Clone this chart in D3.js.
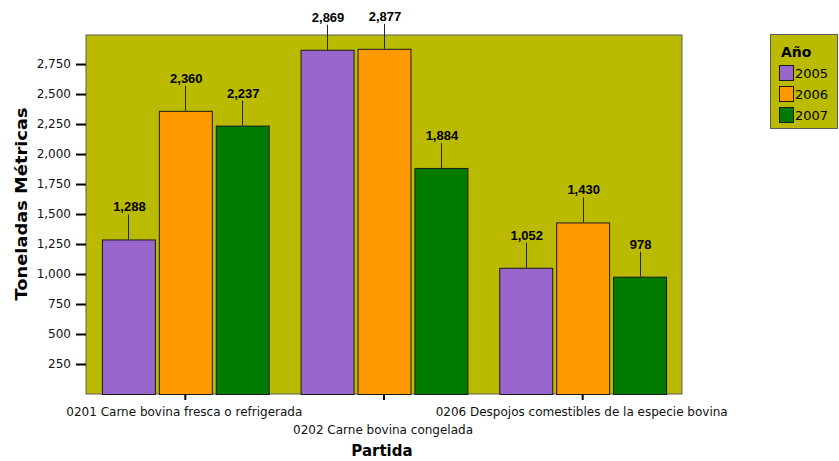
<!DOCTYPE html>
<html><head><meta charset="utf-8">
<script src="https://cdn.jsdelivr.net/npm/d3@7"></script>
<style>body{margin:0;background:#fff}svg{display:block}</style>
</head><body>
<svg id="c" width="839" height="461"></svg>
<script>
const categories = ["0201 Carne bovina fresca o refrigerada", "0202 Carne bovina congelada", "0206 Despojos comestibles de la especie bovina"];
const years = ["2005", "2006", "2007"];
const v2005 = [1288, 2869, 1052];
const v2006 = [2360, 2877, 1430];
const v2007 = [2237, 1884, 978];
const yTicks = [250, 500, 750, 1000, 1250, 1500, 1750, 2000, 2250, 2500, 2750];
const colors = ["#9966CC", "#FF9900", "#007A00"];

const series = [v2005, v2006, v2007];
const svg = d3.select("#c");
const L = 86, R = 682, T = 35, B = 394;

const x0 = d3.scaleBand().domain(categories).range([L, R]).padding(0);
const x1 = d3.scaleBand().domain(years).range([0, x0.bandwidth()]).paddingInner(0.07).paddingOuter(0.28);
const y = d3.scaleLinear().domain([0, 2992]).range([B, T]);
const col = d3.scaleOrdinal().domain(years).range(colors);

// plot background
svg.append("rect").attr("x", L).attr("y", T).attr("width", R - L).attr("height", B - T)
  .attr("fill", "#BABA00").attr("stroke", "#5a5a5a").attr("stroke-width", 1);

// bars
const data = [];
categories.forEach((c, i) => years.forEach((yr, j) => data.push({c, yr, v: series[j][i]})));
const g = svg.append("g");
g.selectAll("rect.bar").data(data).join("rect")
  .attr("x", d => x0(d.c) + x1(d.yr) + 0.5)
  .attr("y", d => y(d.v) + 0.5)
  .attr("width", x1.bandwidth())
  .attr("height", d => B - y(d.v))
  .attr("fill", d => col(d.yr)).attr("stroke", "#1a1a1a").attr("stroke-width", 1);

// leader lines & labels
g.selectAll("line.lead").data(data).join("line")
  .attr("x1", d => Math.round(x0(d.c) + x1(d.yr) + x1.bandwidth() / 2) + 0.5)
  .attr("x2", d => Math.round(x0(d.c) + x1(d.yr) + x1.bandwidth() / 2) + 0.5)
  .attr("y1", d => y(d.v)).attr("y2", d => y(d.v) - 25)
  .attr("stroke", "#222").attr("stroke-width", 1);
g.selectAll("text.val").data(data).join("text")
  .attr("x", d => x0(d.c) + x1(d.yr) + x1.bandwidth() / 2 + 1)
  .attr("y", d => y(d.v) - 28)
  .attr("text-anchor", "middle")
  .attr("font-family", "Liberation Sans, Arial, sans-serif").attr("font-weight", "bold").attr("font-size", 13)
  .attr("fill", "#000")
  .text(d => d3.format(",")(d.v));

// y axis
const ya = svg.append("g").attr("transform", `translate(${L},0)`)
  .call(d3.axisLeft(y).tickValues(yTicks).tickFormat(d3.format(",")).tickSize(10).tickPadding(5));
ya.select(".domain").remove();
ya.selectAll(".tick line").attr("stroke", "#000").attr("stroke-width", 2);
ya.selectAll(".tick text").attr("font-family", "DejaVu Sans, sans-serif").attr("font-size", 12).attr("fill", "#111");

// x axis ticks
const xa = svg.append("g").attr("transform", `translate(0,${B})`)
  .call(d3.axisBottom(x0).tickSize(6).tickFormat(""));
xa.select(".domain").remove();
xa.selectAll(".tick line").attr("stroke", "#000").attr("stroke-width", 2);
svg.append("g").selectAll("text").data(categories).join("text")
  .attr("x", d => x0(d) + x0.bandwidth() / 2 - 1)
  .attr("y", (d, i) => i % 2 === 0 ? 416 : 434)
  .attr("text-anchor", "middle")
  .attr("font-family", "DejaVu Sans, sans-serif").attr("font-size", 12).attr("fill", "#111")
  .text(d => d);

// axis titles
svg.append("text").attr("x", 382).attr("y", 456).attr("text-anchor", "middle")
  .attr("font-family", "DejaVu Sans, sans-serif").attr("font-weight", "bold").attr("font-size", 15)
  .text("Partida");
svg.append("text").attr("transform", "translate(27,204) rotate(-90)").attr("text-anchor", "middle")
  .attr("font-family", "DejaVu Sans, sans-serif").attr("font-weight", "bold").attr("font-size", 15)
  .attr("textLength", 193).attr("lengthAdjust", "spacingAndGlyphs")
  .text("Toneladas Métricas");

// legend
const lg = svg.append("g");
lg.append("rect").attr("x", 770.5).attr("y", 34.5).attr("width", 67).attr("height", 94)
  .attr("fill", "#BABA00").attr("stroke", "#5a5a5a");
lg.append("text").attr("x", 781).attr("y", 57)
  .attr("font-family", "DejaVu Sans, sans-serif").attr("font-weight", "bold").attr("font-size", 14).text("Año");
years.forEach((yr, j) => {
  lg.append("rect").attr("x", 779.5).attr("y", 65.5 + j * 21).attr("width", 14).attr("height", 15)
    .attr("fill", col(yr)).attr("stroke", "#1a1a1a");
  lg.append("text").attr("x", 795).attr("y", 78 + j * 21)
    .attr("font-family", "DejaVu Sans, sans-serif").attr("font-size", 13).text(yr);
});
</script>
</body></html>
